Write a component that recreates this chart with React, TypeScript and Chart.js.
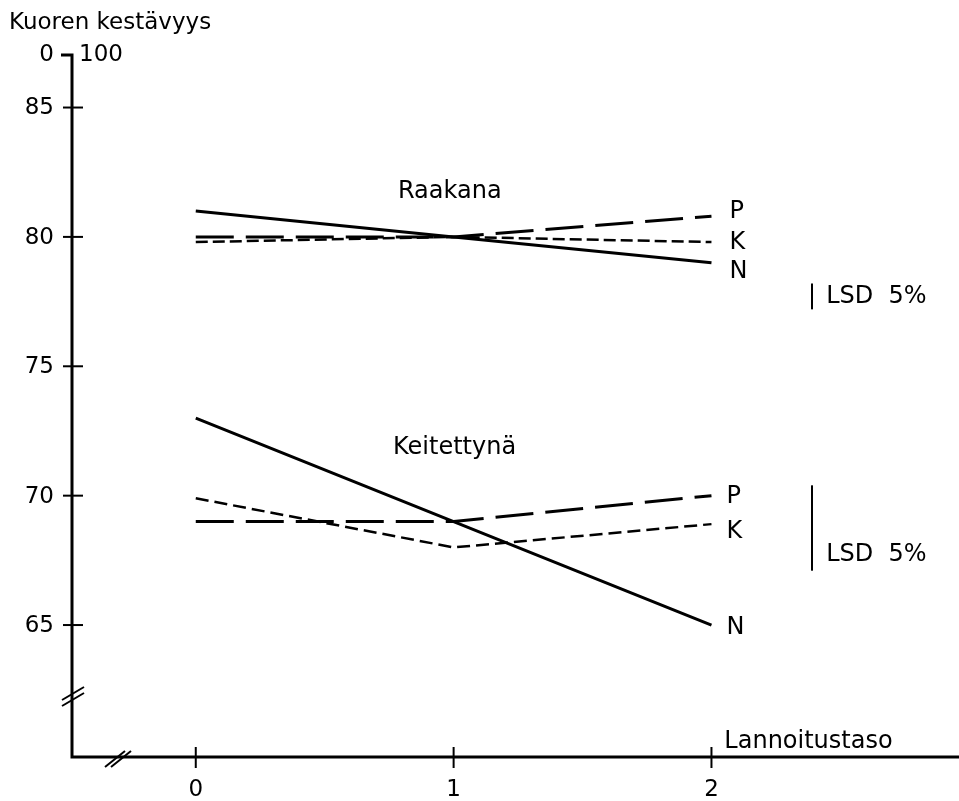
import React, { useEffect, useRef } from "react";
import { Chart, registerables } from "chart.js";

Chart.register(...registerables);

// ---- data ----
const levels = [0, 1, 2];
const rawN = [81, 80, 79];
const rawP = [80, 80, 80.8];
const rawK = [79.8, 80, 79.8];
const cookedN = [73, 69, 65];
const cookedP = [69, 69, 70];
const cookedK = [69.9, 68, 68.9];

const yTicks = [65, 70, 75, 80, 85];
const xTicks = [0, 1, 2];

const yTitle = "Kuoren kestävyys";
const xTitle = "Lannoitustaso";
const groupNames = ["Raakana", "Keitettynä"];
const seriesNames = ["P", "K", "N"];
const rawLabelY = [80.97, 79.77, 78.65];
const cookedLabelY = [69.96, 68.61, 64.88];
const lsdRaw = [78.2, 77.2];
const lsdCooked = [70.4, 67.1];
const lsdText = "LSD  5%";

const FONT = "'DejaVu Sans', sans-serif";

const toXY = (vals: number[]) => vals.map((v, i) => ({ x: levels[i], y: v }));

const ds = (label: string, vals: number[], dash: number[], width: number) => ({
  label,
  data: toXY(vals),
  borderColor: "#000",
  backgroundColor: "#000",
  borderWidth: width,
  borderDash: dash,
  pointRadius: 0,
  tension: 0,
  fill: false,
});

const axesPlugin = {
  id: "handAxes",
  afterDraw(chart: any) {
    const { ctx, chartArea, scales } = chart;
    const { left, top, right, bottom } = chartArea;
    const x = scales.x;
    const y = scales.y;
    const line = (x1: number, y1: number, x2: number, y2: number) => {
      ctx.beginPath();
      ctx.moveTo(x1, y1);
      ctx.lineTo(x2, y2);
      ctx.stroke();
    };
    ctx.save();
    ctx.strokeStyle = "#000";
    ctx.fillStyle = "#000";
    ctx.lineCap = "butt";
    ctx.lineJoin = "miter";

    // axes
    ctx.lineWidth = 3;
    ctx.beginPath();
    ctx.moveTo(left - 11, top);
    ctx.lineTo(left, top);
    ctx.lineTo(left, bottom);
    ctx.lineTo(right, bottom);
    ctx.stroke();

    // y ticks
    ctx.lineWidth = 2;
    ctx.font = `23px ${FONT}`;
    ctx.textAlign = "right";
    ctx.textBaseline = "middle";
    yTicks.forEach((v) => {
      const py = y.getPixelForValue(v);
      line(left - 9, py, left + 11, py);
      ctx.fillText(String(v), left - 18, py + 1);
    });
    // 0 - 100 label at top
    ctx.fillText("0", left - 18, top);
    ctx.textAlign = "left";
    ctx.fillText("100", left + 7, top);

    // x ticks
    ctx.textAlign = "center";
    xTicks.forEach((v) => {
      const px = x.getPixelForValue(v);
      line(px, bottom - 10, px, bottom + 11);
      ctx.fillText(String(v), px, bottom + 33);
    });

    // axis breaks
    ctx.lineWidth = 2;
    const by = bottom - 59;
    line(left - 10, by + 8, left + 12, by - 5);
    line(left - 10, by + 2, left + 12, by - 11);
    const bx = left + 45;
    line(bx - 12, bottom + 10, bx + 8, bottom - 6);
    line(bx - 6, bottom + 10, bx + 14, bottom - 6);

    // titles
    ctx.font = `23px ${FONT}`;
    ctx.textAlign = "left";
    ctx.textBaseline = "middle";
    ctx.fillText(yTitle, 9, 23);
    ctx.font = `24px ${FONT}`;
    ctx.fillText(xTitle, x.getPixelForValue(2.05), bottom - 15);

    // group labels
    ctx.fillText(groupNames[0], x.getPixelForValue(0.784), y.getPixelForValue(81.74));
    ctx.fillText(groupNames[1], x.getPixelForValue(0.765), y.getPixelForValue(71.86));

    // series end labels
    const lx = x.getPixelForValue(2.07);
    seriesNames.forEach((n, i) => {
      ctx.fillText(n, lx, y.getPixelForValue(rawLabelY[i]));
      ctx.fillText(n, lx - 3, y.getPixelForValue(cookedLabelY[i]));
    });

    // LSD bars
    const lsdX = x.getPixelForValue(2.39);
    ctx.lineWidth = 2;
    line(lsdX, y.getPixelForValue(lsdRaw[0]), lsdX, y.getPixelForValue(lsdRaw[1]));
    line(lsdX, y.getPixelForValue(lsdCooked[0]), lsdX, y.getPixelForValue(lsdCooked[1]));
    const tx = x.getPixelForValue(2.445);
    ctx.fillText(lsdText, tx, y.getPixelForValue((lsdRaw[0] + lsdRaw[1]) / 2));
    ctx.fillText(lsdText, tx, y.getPixelForValue(67.72));

    ctx.restore();
  },
};

export default function App() {
  const ref = useRef<HTMLCanvasElement | null>(null);
  useEffect(() => {
    if (!ref.current) return;
    const chart = new Chart(ref.current, {
      type: "line",
      data: {
        datasets: [
          ds("Raakana N", rawN, [], 3),
          ds("Raakana P", rawP, [38, 12], 3),
          ds("Raakana K", rawK, [12, 5], 2.5),
          ds("Keitettynä N", cookedN, [], 3),
          ds("Keitettynä P", cookedP, [38, 12], 3),
          ds("Keitettynä K", cookedK, [13, 6], 2.5),
        ],
      },
      options: {
        responsive: false,
        animation: false,
        devicePixelRatio: 1,
        layout: { padding: { left: 72, top: 55, right: 0, bottom: 44 } },
        scales: {
          x: { type: "linear", display: false, min: -0.48, max: 2.96 },
          y: { type: "linear", display: false, min: 59.9, max: 87.03 },
        },
        plugins: { legend: { display: false }, tooltip: { enabled: false } },
      },
      plugins: [axesPlugin],
    });
    return () => chart.destroy();
  }, []);
  return (
    <div style={{ position: "absolute", left: 0, top: 0, width: 959, height: 801, background: "#fff" }}>
      <canvas ref={ref} width={959} height={801} style={{ display: "block" }} />
    </div>
  );
}
